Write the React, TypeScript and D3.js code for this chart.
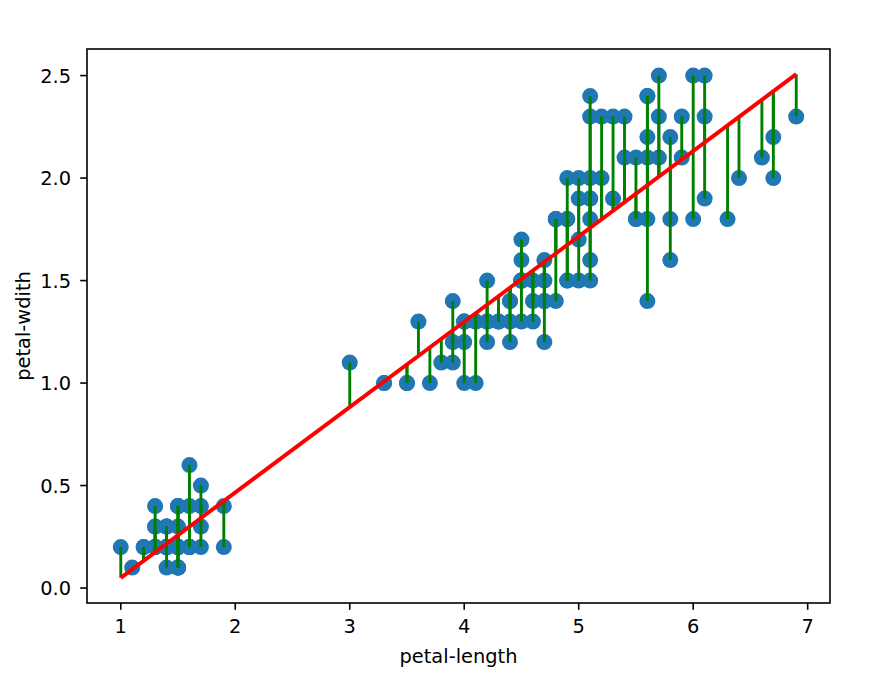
import React from 'react';
import * as d3 from 'd3';

// iris dataset, petal measurements (cm)
const petalLength = [
  1.4, 1.4, 1.3, 1.5, 1.4, 1.7, 1.4, 1.5, 1.4, 1.5, 1.5, 1.6, 1.4, 1.1, 1.2, 1.5, 1.3, 1.4, 1.7, 1.5,
  1.7, 1.5, 1.0, 1.7, 1.9, 1.6, 1.6, 1.5, 1.4, 1.6, 1.6, 1.5, 1.5, 1.4, 1.5, 1.2, 1.3, 1.5, 1.3, 1.5,
  1.3, 1.3, 1.3, 1.6, 1.9, 1.4, 1.6, 1.4, 1.5, 1.4,
  4.7, 4.5, 4.9, 4.0, 4.6, 4.5, 4.7, 3.3, 4.6, 3.9, 3.5, 4.2, 4.0, 4.7, 3.6, 4.4, 4.5, 4.1, 4.5, 3.9,
  4.8, 4.0, 4.9, 4.7, 4.3, 4.4, 4.8, 5.0, 4.5, 3.5, 3.8, 3.7, 3.9, 5.1, 4.5, 4.5, 4.7, 4.4, 4.1, 4.0,
  4.4, 4.6, 4.0, 3.3, 4.2, 4.2, 4.2, 4.3, 3.0, 4.1,
  6.0, 5.1, 5.9, 5.6, 5.8, 6.6, 4.5, 6.3, 5.8, 6.1, 5.1, 5.3, 5.5, 5.0, 5.1, 5.3, 5.5, 6.7, 6.9, 5.0,
  5.7, 4.9, 6.7, 4.9, 5.7, 6.0, 4.8, 4.9, 5.6, 5.8, 6.1, 6.4, 5.6, 5.1, 5.6, 6.1, 5.6, 5.5, 4.8, 5.4,
  5.6, 5.1, 5.1, 5.9, 5.7, 5.2, 5.0, 5.2, 5.4, 5.1,
];

const petalWidth = [
  0.2, 0.2, 0.2, 0.2, 0.2, 0.4, 0.3, 0.2, 0.2, 0.1, 0.2, 0.2, 0.1, 0.1, 0.2, 0.4, 0.4, 0.3, 0.3, 0.3,
  0.2, 0.4, 0.2, 0.5, 0.2, 0.2, 0.4, 0.2, 0.2, 0.2, 0.2, 0.4, 0.1, 0.2, 0.1, 0.2, 0.2, 0.1, 0.2, 0.2,
  0.3, 0.3, 0.2, 0.6, 0.4, 0.3, 0.2, 0.2, 0.2, 0.2,
  1.4, 1.5, 1.5, 1.3, 1.5, 1.3, 1.6, 1.0, 1.3, 1.4, 1.0, 1.5, 1.0, 1.4, 1.3, 1.4, 1.5, 1.0, 1.5, 1.1,
  1.8, 1.3, 1.5, 1.2, 1.3, 1.4, 1.4, 1.7, 1.5, 1.0, 1.1, 1.0, 1.2, 1.6, 1.5, 1.6, 1.5, 1.3, 1.3, 1.3,
  1.2, 1.4, 1.2, 1.0, 1.3, 1.2, 1.3, 1.3, 1.1, 1.3,
  2.5, 1.9, 2.1, 1.8, 2.2, 2.1, 1.7, 1.8, 1.8, 2.5, 2.0, 1.9, 2.1, 2.0, 2.4, 2.3, 1.8, 2.2, 2.3, 1.5,
  2.3, 2.0, 2.0, 1.8, 2.1, 1.8, 1.8, 1.8, 2.1, 1.6, 1.9, 2.0, 2.2, 1.5, 1.4, 2.3, 2.4, 1.8, 1.8, 2.1,
  2.4, 2.3, 1.9, 2.3, 2.5, 2.3, 1.9, 2.0, 2.3, 1.8,
];

const xTicks = [1, 2, 3, 4, 5, 6, 7];
const yTicks = [0, 0.5, 1, 1.5, 2, 2.5];
const xLabel = 'petal-length';
const yLabel = 'petal-wdith';

const width = 895;
const height = 679;
const margin = { top: 49, right: 65, bottom: 76, left: 87 };
const font = 'DejaVu Sans, sans-serif';

// ordinary least squares fit
const fit = (xs: number[], ys: number[]) => {
  const mx = d3.mean(xs)!;
  const my = d3.mean(ys)!;
  let num = 0;
  let den = 0;
  xs.forEach((x, i) => {
    num += (x - mx) * (ys[i] - my);
    den += (x - mx) * (x - mx);
  });
  const slope = num / den;
  return { slope, intercept: my - slope * mx };
};

const pad = (lo: number, hi: number): [number, number] => {
  const m = (hi - lo) * 0.05;
  return [lo - m, hi + m];
};

export default function App() {
  const innerW = width - margin.left - margin.right;
  const innerH = height - margin.top - margin.bottom;

  const { slope, intercept } = fit(petalLength, petalWidth);
  const pred = petalLength.map(x => intercept + slope * x);

  const [xMin, xMax] = d3.extent(petalLength) as [number, number];
  const [yMin, yMax] = d3.extent([...petalWidth, ...pred]) as [number, number];

  const x = d3.scaleLinear().domain(pad(xMin, xMax)).range([0, innerW]);
  const y = d3.scaleLinear().domain(pad(yMin, yMax)).range([innerH, 0]);

  const fitLine = d3.line<number>()
    .x(d => x(d))
    .y(d => y(intercept + slope * d))([xMin, xMax]);

  return (
    <svg width={width} height={height} style={{ position: 'absolute', left: 0, top: 0, background: '#fff' }}>
      <g transform={`translate(${margin.left},${margin.top})`}>
        {petalLength.map((d, i) => (
          <circle key={'p' + i} cx={x(d)} cy={y(petalWidth[i])} r={8} fill="#1f77b4" />
        ))}
        {petalLength.map((d, i) => (
          <line key={'v' + i} x1={x(d)} x2={x(d)} y1={y(petalWidth[i])} y2={y(pred[i])}
            stroke="#008000" strokeWidth={2.9} />
        ))}
        <path d={fitLine!} fill="none" stroke="#ff0000" strokeWidth={3.9} />

        <rect x={0} y={0} width={innerW} height={innerH} fill="none" stroke="#000" strokeWidth={1.6} />

        {xTicks.map(t => (
          <g key={'xt' + t} transform={`translate(${x(t)},${innerH})`}>
            <line y1={0} y2={6.8} stroke="#000" strokeWidth={1.6} />
            <text y={30} textAnchor="middle" fontFamily={font} fontSize={19.4} fill="#000">{t}</text>
          </g>
        ))}
        {yTicks.map(t => (
          <g key={'yt' + t} transform={`translate(0,${y(t)})`}>
            <line x1={0} x2={-6.8} stroke="#000" strokeWidth={1.6} />
            <text x={-16} dy="0.36em" textAnchor="end" fontFamily={font} fontSize={19.4} fill="#000">{t.toFixed(1)}</text>
          </g>
        ))}

        <text x={innerW / 2} y={innerH + 60} textAnchor="middle" fontFamily={font} fontSize={19.4} fill="#000">{xLabel}</text>
        <text transform={`translate(${-57},${innerH / 2}) rotate(-90)`} textAnchor="middle" fontFamily={font} fontSize={19.4} fill="#000">{yLabel}</text>
      </g>
    </svg>
  );
}
